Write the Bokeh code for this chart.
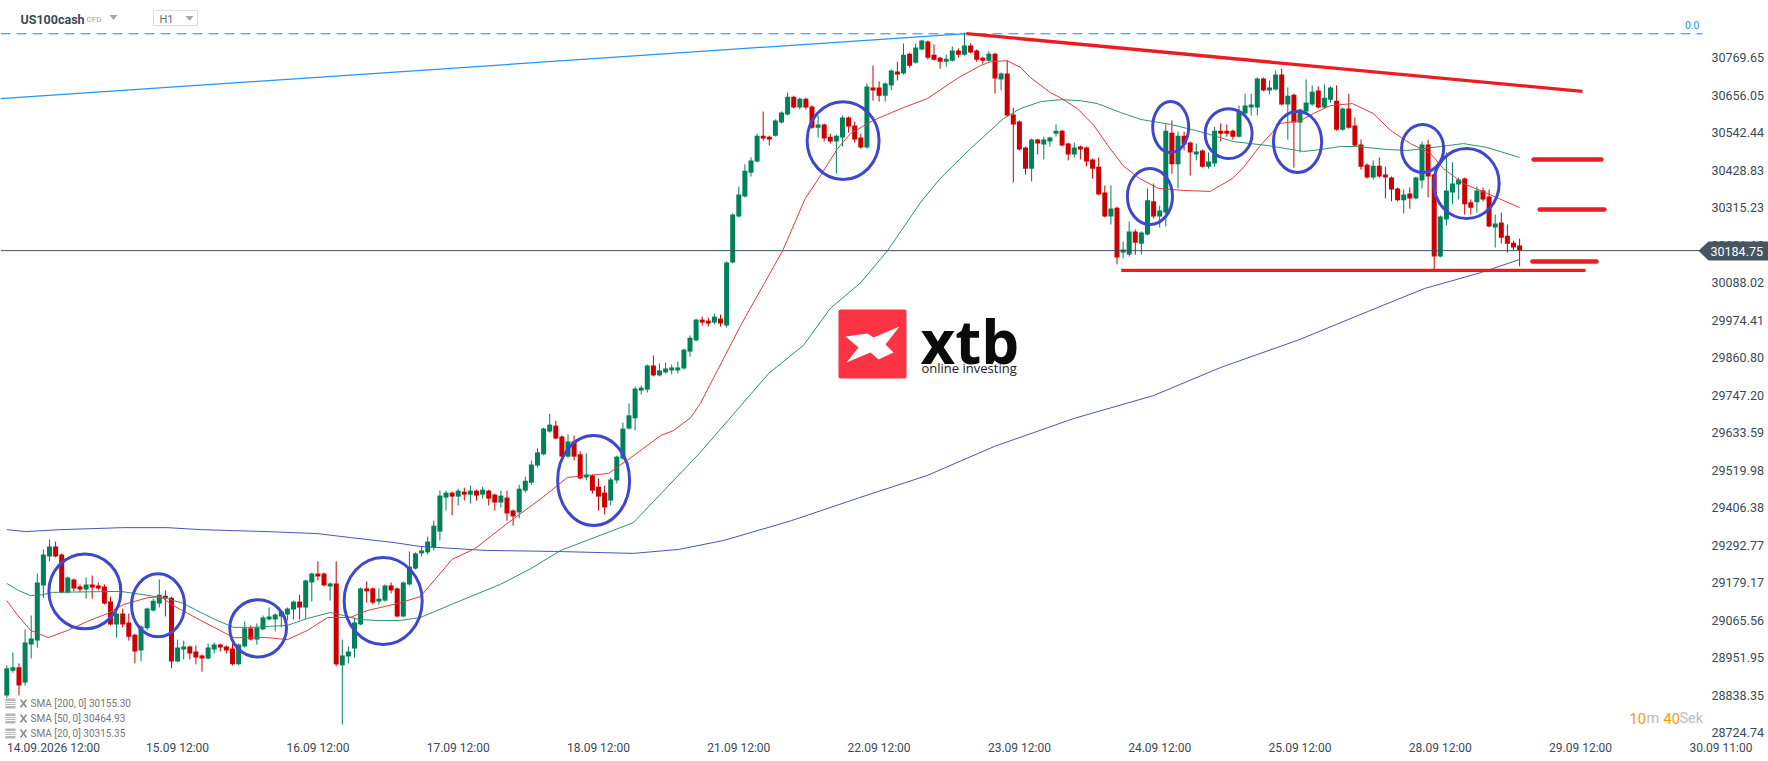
from bokeh.plotting import figure
from bokeh.models import Range1d, LinearAxis, FixedTicker, NumeralTickFormatter, Label, PolyAnnotation
from bokeh.embed import file_html
from bokeh.resources import INLINE

# ---- OHLC values ----
opens = [
 28838,28913,28923,28877,28992,29004,29171,29259,29289,29265,
 29150,29189,29168,29159,29174,29171,29168,29122,29053,29086,
 29059,29022,28974,29041,29095,29116,29140,29134,28941,28977,
 28986,28971,28959,28950,28977,28992,28986,28980,28932,28986,
 29041,29007,29038,29068,29068,29077,29083,29098,29122,29104,
 29180,29207,29207,29168,29177,28929,28956,28980,29053,29162,
 29162,29122,29125,29171,29162,29077,29174,29222,29268,29271,
 29286,29334,29437,29452,29440,29455,29446,29458,29446,29458,
 29446,29422,29437,29398,29392,29458,29482,29534,29568,29637,
 29655,29622,29561,29607,29568,29498,29504,29470,29452,29428,
 29489,29555,29646,29677,29761,29764,29837,29807,29816,29822,
 29822,29828,29879,29913,29976,29973,29967,29979,29958,30149,
 30288,30349,30421,30455,30533,30530,30533,30573,30597,30651,
 30618,30645,30621,30557,30567,30530,30515,30527,30588,30564,
 30527,30497,30679,30679,30654,30685,30727,30721,30781,30754,
 30794,30818,30778,30769,30757,30760,30791,30778,30806,30791,
 30769,30760,30781,30703,30721,30597,30576,30497,30433,30521,
 30506,30515,30539,30548,30509,30476,30500,30497,30461,30439,
 30361,30288,30315,30179,30173,30243,30206,30234,30334,30288,
 30300,30542,30446,30533,30512,30476,30488,30439,30449,30548,
 30548,30548,30530,30600,30618,30618,30706,30670,30673,30718,
 30627,30657,30573,30606,30627,30670,30618,30642,30639,30551,
 30615,30564,30506,30445,30406,30442,30415,30406,30373,30337,
 30358,30343,30397,30506,30415,30167,30279,30361,30385,30403,
 30331,30331,30367,30349,30255,30270,30230,30209,30200]
highs = [
 28929,28968,28935,29038,29080,29207,29280,29310,29304,29268,
 29198,29192,29174,29195,29201,29180,29174,29137,29089,29101,
 29086,29025,29050,29104,29131,29189,29156,29137,29007,29004,
 28989,28989,28962,28995,28998,28995,28989,28995,28995,29062,
 29050,29056,29080,29104,29086,29095,29104,29125,29143,29189,
 29210,29244,29210,29180,29244,29007,28986,29074,29165,29183,
 29165,29162,29174,29180,29165,29183,29274,29271,29289,29319,
 29367,29458,29458,29455,29464,29467,29473,29461,29470,29461,
 29449,29458,29458,29401,29476,29500,29549,29586,29649,29691,
 29670,29625,29628,29625,29577,29571,29507,29495,29473,29498,
 29564,29664,29722,29773,29776,29840,29867,29843,29846,29840,
 29849,29888,29928,29979,29985,29982,29994,29991,30152,30297,
 30379,30446,30467,30539,30606,30533,30582,30606,30663,30654,
 30648,30648,30624,30594,30570,30539,30536,30594,30591,30576,
 30539,30691,30745,30697,30694,30733,30757,30812,30784,30812,
 30824,30821,30809,30772,30778,30803,30797,30845,30812,30794,
 30772,30788,30784,30724,30760,30618,30579,30500,30524,30524,
 30530,30530,30567,30551,30512,30512,30503,30500,30464,30467,
 30382,30382,30318,30212,30273,30249,30243,30373,30388,30321,
 30567,30579,30545,30545,30515,30509,30491,30482,30560,30570,
 30567,30551,30624,30660,30660,30709,30709,30700,30730,30736,
 30679,30660,30615,30703,30685,30682,30688,30682,30685,30618,
 30660,30588,30521,30449,30458,30467,30439,30409,30376,30370,
 30376,30409,30515,30521,30418,30291,30482,30452,30406,30406,
 30340,30379,30376,30370,30294,30300,30264,30215,30221]
lows = [
 28831,28907,28838,28868,28950,28983,29134,29244,29256,29147,
 29147,29153,29150,29131,29131,29156,29113,29050,29013,29044,
 29004,28935,28941,29035,29092,29104,29077,28920,28938,28947,
 28947,28932,28910,28947,28965,28971,28965,28929,28929,28983,
 29004,28992,29035,29065,29032,29044,29065,29068,29068,29068,
 29122,29186,29168,29125,28926,28750,28935,28953,29050,29119,
 29113,29113,29122,29147,29074,29074,29171,29219,29259,29265,
 29277,29307,29398,29383,29413,29428,29419,29428,29434,29413,
 29398,29407,29367,29352,29374,29452,29476,29528,29565,29634,
 29613,29558,29558,29549,29492,29489,29449,29398,29386,29413,
 29480,29552,29643,29640,29749,29755,29804,29804,29813,29810,
 29813,29825,29864,29910,29958,29955,29961,29955,29952,30146,
 30285,30346,30409,30452,30518,30503,30530,30570,30594,30615,
 30612,30612,30554,30527,30515,30509,30418,30500,30542,30512,
 30494,30494,30639,30636,30636,30670,30700,30718,30739,30751,
 30791,30763,30760,30736,30742,30757,30769,30775,30782,30757,
 30751,30757,30660,30670,30591,30391,30488,30415,30394,30476,
 30461,30500,30530,30500,30458,30467,30461,30440,30403,30352,
 30285,30264,30143,30161,30167,30173,30173,30231,30282,30255,
 30258,30418,30373,30488,30412,30458,30436,30433,30439,30515,
 30530,30521,30527,30597,30594,30594,30667,30658,30670,30624,
 30521,30436,30482,30603,30624,30615,30615,30633,30548,30548,
 30554,30500,30430,30403,30400,30406,30343,30334,30334,30297,
 30312,30340,30373,30346,30128,30164,30261,30325,30340,30294,
 30294,30300,30334,30255,30194,30206,30179,30185,30137]
closes = [
 28920,28923,28868,28998,29010,29180,29265,29289,29259,29150,
 29195,29162,29159,29174,29165,29162,29116,29053,29086,29053,
 29016,28971,29047,29101,29125,29143,29134,28941,28983,28986,
 28965,28953,28950,28983,28992,28983,28974,28932,28992,29041,
 29007,29044,29074,29077,29083,29092,29101,29122,29104,29186,
 29207,29198,29171,29177,28932,28959,28971,29059,29162,29153,
 29119,29131,29171,29156,29077,29180,29228,29268,29277,29304,
 29352,29443,29452,29440,29458,29446,29458,29443,29461,29434,
 29422,29443,29389,29380,29464,29488,29537,29574,29646,29658,
 29616,29561,29607,29561,29495,29507,29458,29440,29407,29492,
 29561,29646,29686,29767,29770,29837,29807,29822,29828,29831,
 29831,29885,29921,29976,29967,29964,29985,29964,30149,30294,
 30355,30427,30458,30533,30524,30521,30579,30603,30651,30618,
 30645,30618,30557,30567,30524,30515,30533,30588,30561,30521,
 30497,30682,30670,30654,30691,30730,30718,30778,30745,30800,
 30821,30769,30763,30757,30766,30791,30778,30806,30785,30763,
 30760,30781,30706,30721,30594,30567,30491,30433,30521,30509,
 30521,30527,30548,30503,30476,30497,30491,30455,30433,30355,
 30288,30312,30164,30188,30243,30209,30240,30337,30288,30306,
 30548,30446,30533,30506,30482,30485,30439,30455,30548,30539,
 30539,30530,30606,30624,30627,30706,30670,30679,30718,30627,
 30654,30573,30612,30633,30666,30618,30648,30679,30551,30615,
 30557,30503,30439,30406,30442,30409,30406,30370,30337,30355,
 30343,30406,30506,30409,30167,30288,30367,30388,30400,30325,
 30315,30367,30340,30258,30267,30224,30206,30194,30185]

# ---- moving averages, read at visible knots (bar number, price) ----
sma20_bars = [0,1.8,3.9,6.8,10,13.2,16.5,19.1,23.1,25.2,27.3,31.8,37.2,42.7,46,49.3,52.6,56.3,59.1,64,
 67.8,73,76.8,82.2,87.8,91.9,98.6,102.3,105,107.2,109.3,112.1,113.7,120.3,127.2,130.9,133.4,136.2,138.3,142,
 147,150.9,155.8,159.6,161.3,164,166.2,167.8,171.1,172.7,175.5,178.2,180.5,183,185.7,188.8,192.9,197.3,200.9,202.7,
 205.5,208.8,212.1,214.2,217,220.6,224,226.9,230.1,233.4,235.5,238.8,242.7,248]
sma20_vals = [29125,29080,29035,29013,29035,29062,29086,29113,29134,29137,29110,29065,29013,29013,29007,29035,29074,29074,29095,29116,
 29137,29250,29283,29361,29437,29498,29510,29558,29595,29625,29640,29679,29722,29958,30185,30343,30412,30494,30539,30579,
 30618,30645,30706,30745,30757,30760,30739,30709,30663,30648,30615,30564,30503,30442,30403,30373,30367,30364,30403,30436,
 30503,30570,30579,30600,30624,30630,30600,30548,30509,30479,30433,30388,30358,30315]
sma50_bars = [0,1.9,3.9,5.9,7.5,18.6,22.4,26.3,29,31.8,34.5,37.2,40,46,49.3,53,55.2,57.7,60.8,64.5,
 67.8,74.4,80.9,85.9,90.8,102.7,113.7,124.9,130.6,135,140,144.4,149.8,153,158,163.4,166.2,169.5,172.7,176,
 178.8,182.6,185.9,190.8,195.7,201.1,206.7,212.6,215.4,218.6,221.4,226.3,229.6,235,238.8,242.7,248]
sma50_vals = [29177,29156,29140,29143,29150,29153,29143,29131,29116,29089,29065,29044,29044,29050,29071,29089,29080,29068,29065,29065,
 29074,29125,29174,29222,29277,29361,29574,29813,29898,30010,30088,30185,30331,30403,30494,30585,30615,30636,30642,30639,
 30630,30603,30582,30567,30545,30515,30503,30485,30491,30500,30500,30491,30488,30500,30509,30497,30467]
sma200_bars = [0,3.1,8.8,19.1,26.3,31.8,42.7,50.9,56.3,63.4,67.8,78.6,89.8,102.7,110.1,117.5,128.6,139.8,150.9,161.9,175,188,199,212,221.2,232.4,241.6,248]
sma200_vals = [29340,29334,29340,29346,29346,29340,29334,29328,29316,29301,29289,29277,29274,29268,29280,29307,29367,29437,29504,29592,29677,29746,29831,29916,29986,30070,30118,30158]

# ---- analyst drawings ----
circle_bars = [12.8,24.8,41.2,61.7,96.2,137.1,187.4,190.8,200.3,211.6,232.1,239.3]
circle_prices = [29153,29111,29041,29124,29489,30518,30349,30559,30539,30514,30494,30388]
circle_bar_spans = [11.8,8.7,9.3,12.8,11.8,11.8,7.4,5.9,7.7,7.9,6.9,10.7]
circle_price_spans = [227,191,173,263,273,236,170,154,151,185,145,212]

fib_level = 30841.4
last_price = 30184.75
rise_line_bars, rise_line_prices = [-1.03,157.3], [30645,30842]
fall_line_bars, fall_line_prices = [157.3,258.3], [30842,30667]
support_bars, support_prices = [182.7,258.8], [30125,30125]
dash_levels = [30461,30309,30152]
dash_starts = [250.3,251.3,250.1]
dash_ends = [261.4,261.9,260.6]

y_ticks = [30769.65,30656.05,30542.44,30428.83,30315.23,30201.62,30088.02,29974.41,29860.80,29747.20,
           29633.59,29519.98,29406.38,29292.77,29179.17,29065.56,28951.95,28838.35,28724.74]
x_tick_bars = [7.66,28,51,74,97,120,143,166,189,212,235,258,281]
x_tick_labels = ["14.09.2026 12:00","15.09 12:00","16.09 12:00","17.09 12:00","18.09 12:00","21.09 12:00",
                 "22.09 12:00","23.09 12:00","24.09 12:00","25.09 12:00","28.09 12:00","29.09 12:00","30.09 11:00"]
legend_rows = ["SMA [200, 0] 30155.30","SMA [50, 0] 30464.93","SMA [20, 0] 30315.35"]

# ---- helpers for page furniture: screen position in the reference to chart coordinates ----
def X(px): return (px - 6.3) / 6.1
def Y(py): return 30942.2 - 3.028 * py

GREEN, RED, BLUE_C = "#02805A", "#CC0000", "#3F48CC"
INK = "#3B4954"

# the frame covers the whole picture; the axes print their labels back inside it
p = figure(width=1768, height=761, output_backend="svg", toolbar_location=None,
           x_range=Range1d(X(0), X(1768)), y_range=Range1d(Y(761), Y(0)),
           x_axis_location="below", y_axis_location=None,
           min_border_left=0, min_border_top=0, min_border_right=0, min_border_bottom=0,
           background_fill_color="white", outline_line_color=None,
           styles={"position": "absolute", "left": "0px", "top": "0px"})
p.grid.visible = False

yax = LinearAxis(ticker=FixedTicker(ticks=y_ticks), formatter=NumeralTickFormatter(format="0.00"))
yax.axis_line_color = None
yax.major_tick_line_color = None
yax.minor_tick_line_color = None
yax.major_tick_out = 0
yax.major_tick_in = 0
yax.minor_tick_out = 0
yax.major_label_standoff = -57
yax.major_label_text_font = "Roboto"
yax.major_label_text_font_size = "12.5px"
yax.major_label_text_color = INK
p.add_layout(yax, "right")

xax = p.xaxis[0]
xax.ticker = FixedTicker(ticks=x_tick_bars)
xax.major_label_overrides = dict(zip(x_tick_bars, x_tick_labels))
xax.axis_line_color = None
xax.major_tick_line_color = None
xax.minor_tick_line_color = None
xax.major_tick_out = 0
xax.major_tick_in = 0
xax.minor_tick_out = 0
xax.major_label_standoff = -21
xax.major_label_text_font = "Roboto"
xax.major_label_text_font_size = "12px"
xax.major_label_text_color = INK

# ---- candles ----
n = len(opens)
bars = list(range(n))
wick_col = [GREEN if c >= o else RED for o, c in zip(opens, closes)]
p.segment(bars, highs, bars, lows, line_color=wick_col, line_width=1)
p.vbar(x=bars, top=[max(o, c) for o, c in zip(opens, closes)], bottom=[min(o, c) for o, c in zip(opens, closes)],
       width=0.82, fill_color=wick_col, line_color=None)

# ---- moving averages ----
p.line(sma200_bars, sma200_vals, line_color="#4A55B5", line_width=1)
p.line(sma50_bars, sma50_vals, line_color="#2E9170", line_width=1)
p.line(sma20_bars, sma20_vals, line_color="#E23B3F", line_width=1)

# ---- drawings ----
p.line([X(0), X(1702)], [fib_level, fib_level], line_color="#1E88E5", line_width=1, line_dash="10 6")
p.line(rise_line_bars, rise_line_prices, line_color="#2196F3", line_width=1.2)
p.line(fall_line_bars, fall_line_prices, line_color="#ED1C24", line_width=3.3)
p.line(support_bars, support_prices, line_color="#ED1C24", line_width=3.3)
for lv, a, b in zip(dash_levels, dash_starts, dash_ends):
    p.line([a, b], [lv, lv], line_color="#ED1C24", line_width=4.5, line_cap="round")
p.line([X(0), X(1700)], [last_price, last_price], line_color="#3F505D", line_width=1)
p.ellipse(x=circle_bars, y=circle_prices, width=circle_bar_spans, height=circle_price_spans,
          fill_color=None, line_color=BLUE_C, line_width=3)

# ---- logo ----
p.quad(left=[X(838)], right=[X(906)], top=[Y(309)], bottom=[Y(378)], fill_color="#FB3342", line_color=None,
       border_radius=2)
xm = [(845,336),(867,333),(873,337),(899,326),(885,344),(893,352),(878,359),(870,352),(846,362),(858,347)]
p.patch([X(a) for a, _ in xm], [Y(b) for _, b in xm], fill_color="white", line_color=None)

def txt(s, px, py, size, color=INK, font="Roboto", style="normal", align="left", base="middle"):
    p.add_layout(Label(x=X(px), y=Y(py), text=s, text_font=font, text_font_size=size, text_color=color,
                       text_font_style=style, text_align=align, text_baseline=base, level="overlay"))

txt("xtb", 920, 340, "60px", "#0B0B0B", "Open Sans", "bold")
txt("online investing", 921, 367, "13px", "#222222", "Open Sans")

# ---- header ----
txt("US100cash", 20, 18.5, "12.5px", INK, "Roboto", "bold")
txt("CFD", 86, 19, "8px", "#9AA2A8")
p.quad(left=[X(153)], right=[X(197)], top=[Y(10)], bottom=[Y(25)], fill_color="white",
       line_color="#DDDDDD", line_width=1)
txt("H1", 159, 19, "11px", "#666E75")
for cx, cy in ((113, 17), (189, 18)):
    p.patch([X(cx-4), X(cx+4), X(cx)], [Y(cy-2.5), Y(cy-2.5), Y(cy+2.5)], fill_color="#A6A6A6", line_color=None)
txt("0.0", 1699, 24.5, "10.5px", "#2196F3", align="right")

# ---- legend at lower left ----
for row, ly in zip(legend_rows, (703, 718, 733)):
    p.quad(left=[X(5)], right=[X(15)], top=[Y(ly-5)], bottom=[Y(ly+5)], fill_color="#B5B5B5", line_color=None)
    p.segment([X(5), X(5), X(5)], [Y(ly-2), Y(ly), Y(ly+2)], [X(15), X(15), X(15)], [Y(ly-2), Y(ly), Y(ly+2)],
              line_color="white", line_width=1)
    p.segment([X(20), X(20)], [Y(ly-4), Y(ly+4)], [X(26), X(26)], [Y(ly+4), Y(ly-4)], line_color="#8A8A8A", line_width=1.5)
    txt(row, 30, ly, "10px", "#777777")

# ---- countdown ----
txt("10", 1629, 718, "14.5px", "#FF9800")
txt("m", 1646, 718, "14.5px", "#B8BEC3")
txt("40", 1663, 718, "14.5px", "#FF9800")
txt("Sek", 1679, 718, "14.5px", "#B8BEC3")

# ---- last price tag ----
p.add_layout(PolyAnnotation(xs=[X(1698), X(1708), X(1768), X(1768), X(1708)],
                            ys=[Y(250.3), Y(241), Y(241), Y(260), Y(260)],
                            fill_color="#46555F", fill_alpha=1, line_color=None, level="overlay", editable=False))
txt("30184.75", 1710, 250.5, "12.5px", "white")

open("out.html", "w").write(file_html(p, INLINE))
